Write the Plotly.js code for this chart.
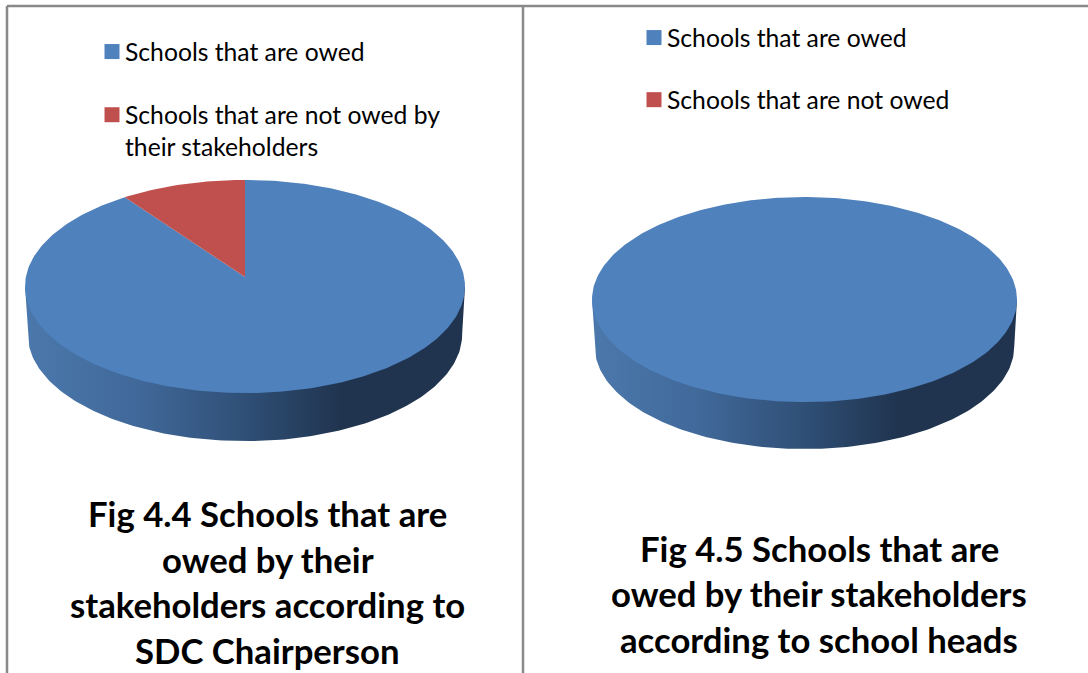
<!DOCTYPE html>
<html>
<head>
<meta charset="utf-8">
<script src="https://cdn.plot.ly/plotly-3.0.1.min.js"></script>
<style>html,body{margin:0;padding:0;background:#fff}#chart{width:1088px;height:673px}</style>
</head>
<body>
<div id="chart"></div>
<script>
// Survey shares (percent of schools)
const sdcShares = [90, 10];
const headShares = [100, 0];
const sdcLabels = ['Schools that are owed', 'Schools that are not owed by<br>their stakeholders'];
const headLabels = ['Schools that are owed', 'Schools that are not owed'];
const sdcTitle = ['Fig 4.4 Schools that are', 'owed by their', 'stakeholders according to', 'SDC Chairperson'];
const headTitle = ['Fig 4.5 Schools that are', 'owed by their stakeholders', 'according to school heads'];
const sliceColors = ['#4F81BD', '#C0504D'];

const W = 1088, H = 673;
const TILT = 0.0892;   // foreshortening of the disc's far side
const SQ = Math.sqrt(1 - TILT * TILT);

// Projects an angle on the disc (clockwise from 12 o'clock) to axis units
function rim(deg) {
  const t = deg * Math.PI / 180;
  const d = 1 + TILT * Math.cos(t);
  return [Math.sin(t) / d, Math.cos(t) / d];
}
function arc(from, to, steps) {
  const pts = [];
  for (let i = 0; i <= steps; i++) pts.push(rim(from + (to - from) * i / steps));
  return pts;
}

function pieTraces(shares, labels, ax, legendId) {
  const xa = 'x' + ax, ya = 'y' + ax;
  const out = [];
  // Side wall: front half of the rim and the same arc dropped by the disc depth.
  // Its upper edge is tucked under the top face so no seam shows between them.
  const edge = Math.acos(-TILT) * 180 / Math.PI;
  const front = arc(edge, 360 - edge, 160);
  const depth = ax === '' ? 0.455 : 0.462;
  const shrink = 0.987;
  const first = front[0], last = front[front.length - 1];
  const lower = front.slice().reverse();
  const wx = [first[0]].concat(front.map(p => p[0] * 0.97), [last[0]], lower.map(p => p[0] * shrink));
  const wy = [first[1]].concat(front.map(p => p[1] * 0.97), [last[1]], lower.map(p => p[1] - depth));
  out.push({
    type: 'scatter', mode: 'lines', x: wx, y: wy, xaxis: xa, yaxis: ya,
    fill: 'toself', line: { width: 0 }, showlegend: false, hoverinfo: 'skip',
    fillcolor: '#2c4a70',
    fillgradient: {
      type: 'horizontal',
      colorscale: [[0, '#4B78AC'], [0.25, '#41699A'], [0.5, '#2F4F76'], [0.72, '#20344F'], [1, '#20344F']]
    }
  });
  // Top face: one wedge per share
  const total = shares.reduce((a, b) => a + b, 0);
  let start = 0;
  shares.forEach((s, i) => {
    const end = start + 360 * s / total;
    if (s > 0) {
      const pts = [[0, 0]].concat(arc(start, end, Math.max(8, Math.round(end - start)))).concat([[0, 0]]);
      out.push({
        type: 'scatter', mode: 'lines', x: pts.map(p => p[0]), y: pts.map(p => p[1]),
        xaxis: xa, yaxis: ya, fill: 'toself', fillcolor: sliceColors[i],
        line: { width: 0 }, showlegend: false, name: labels[i], hoverinfo: 'name'
      });
    }
    start = end;
  });
  // Legend entries
  labels.forEach((lab, i) => {
    out.push({
      type: 'scatter', mode: 'markers', x: [null], y: [null], xaxis: xa, yaxis: ya,
      name: lab, legend: legendId, legendgroup: legendId + i, showlegend: true,
      marker: { symbol: 'square', size: 15, color: sliceColors[i] }
    });
  });
  return out;
}

// Pixel placement of each disc: centre, half-axes
function axisPair(px0, px1, cx, cy, A, B) {
  return {
    x: { domain: [px0 / W, px1 / W], range: [(px0 - cx) / A, (px1 - cx) / A], visible: false, fixedrange: true },
    y: { domain: [0, 1], range: [(cy - H) / B, cy / B], visible: false, fixedrange: true }
  };
}
const left = axisPair(8, 523, 245, 277, 220 * SQ, 105.7);
const right = axisPair(524, 1088, 804.5, 290.4, 212.5 * SQ, 101.7);

const titleFont = { family: 'Lato, sans-serif', size: 34.7, color: '#000000' };
const titleLine = (txt, cx, cy) => ({
  text: '<b>' + txt + '</b>', xref: 'paper', yref: 'paper', x: cx / W, y: 1 - cy / H,
  xanchor: 'center', yanchor: 'middle', showarrow: false, font: titleFont
});
const sdcY = [513, 559, 604, 650];
const headY = [548, 593, 639];
const annotations = sdcTitle.map((t, i) => titleLine(t, 267.5, sdcY[i]))
  .concat(headTitle.map((t, i) => titleLine(t, 819, headY[i])));

const frame = (x0, y0, x1, y1) => ({
  type: 'line', xref: 'paper', yref: 'paper', x0: x0 / W, x1: x1 / W, y0: 1 - y0 / H, y1: 1 - y1 / H,
  line: { color: '#898989', width: 2.5 }
});

const legendFont = { family: 'Lato, sans-serif', size: 24.7, color: '#000000' };
const legendBase = { bgcolor: 'rgba(0,0,0,0)', borderwidth: 0, xanchor: 'left', yanchor: 'top', font: legendFont, itemclick: false, itemdoubleclick: false };

const layout = {
  width: W, height: H, margin: { l: 0, r: 0, t: 0, b: 0 },
  paper_bgcolor: '#ffffff', plot_bgcolor: 'rgba(0,0,0,0)',
  hovermode: 'closest',
  xaxis: left.x, yaxis: left.y, xaxis2: right.x, yaxis2: right.y,
  legend: Object.assign({}, legendBase, { x: 85 / W, y: 1 - 29 / H, tracegroupgap: 28 }),
  legend2: Object.assign({}, legendBase, { x: 627 / W, y: 1 - 15 / H, tracegroupgap: 27 }),
  annotations: annotations,
  shapes: [frame(7, 6, 1088, 6), frame(7, 6, 7, 673), frame(523, 6, 523, 673)]
};

const traces = pieTraces(sdcShares, sdcLabels, '', 'legend').concat(pieTraces(headShares, headLabels, '2', 'legend2'));
Plotly.newPlot('chart', traces, layout, { displayModeBar: false }).then(() => {
  // Sit each swatch beside its label's first line, close to the text
  document.querySelectorAll('.legendsymbols').forEach(sym => {
    const item = sym.closest('.traces');
    const lines = item.querySelectorAll('.legendtext .line').length || 1;
    sym.setAttribute('transform', 'translate(7,' + (-(lines - 1) * 16) + ')');
  });
});
</script>
</body>
</html>
